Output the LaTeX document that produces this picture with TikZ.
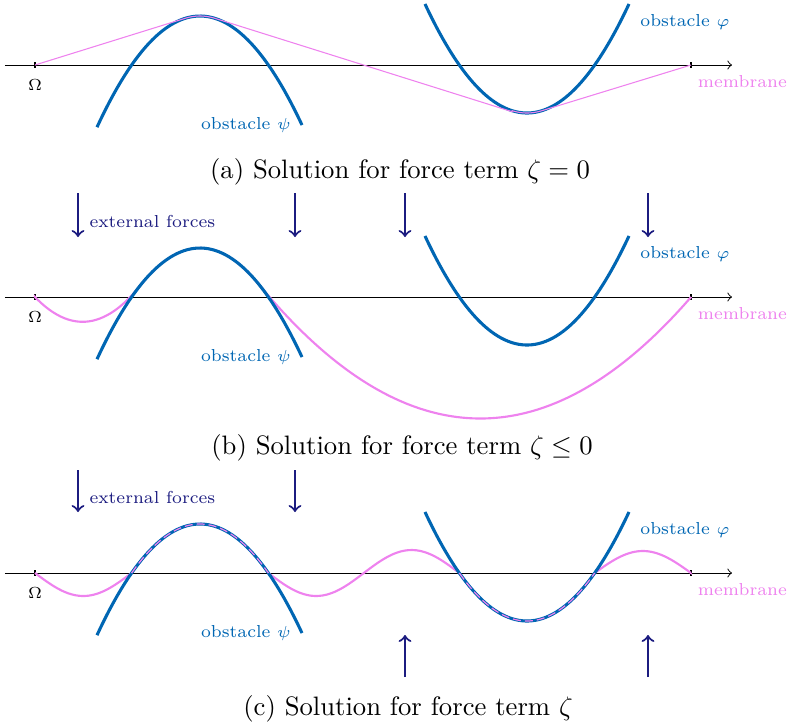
\documentclass[tikz,border=0pt]{standalone}
\usepackage{amsmath,amssymb}
\definecolor{obst}{RGB}{0,102,179}
\definecolor{memb}{RGB}{238,130,238}
\definecolor{force}{RGB}{28,28,128}
\tikzset{
  obstline/.style={obst, line width=1.15pt},
  membline/.style={memb, line width=0.8pt},
  membthin/.style={memb, line width=0.4pt},
  membdash/.style={memb, line width=0.45pt, dash pattern=on 3pt off 1.5pt},
  axisline/.style={->, line width=0.35pt, black},
  tickmark/.style={line width=0.8pt, black},
  forcearrow/.style={->, force, line width=0.8pt},
  lbl/.style={font=\fontsize{6.5}{8}\selectfont, inner sep=0pt},
  obstlbl/.style={lbl, text=obst},
  memblbl/.style={lbl, text=memb, anchor=east},
  forcelbl/.style={lbl, text=force, anchor=west},
  captionlbl/.style={font=\normalsize, inner sep=0pt},
}
\newcommand{\axisparts}[1]{%
  \coordinate (#1-ax0) at (5,0);
  \coordinate (#1-ax1) at (732,0);
  \draw[axisline] (#1-ax0) -- (#1-ax1);
  \coordinate (#1-t0a) at (35,-3); \coordinate (#1-t0b) at (35,3);
  \coordinate (#1-t1a) at (691,-3); \coordinate (#1-t1b) at (691,3);
  \draw[tickmark] (#1-t0a) -- (#1-t0b);
  \draw[tickmark] (#1-t1a) -- (#1-t1b);
  \node[lbl] (#1-omega) at (35,20) {$\Omega$};
  \node[obstlbl] (#1-psi) at (246,60) {obstacle $\psi$};
  \node[obstlbl] (#1-phi) at (685,-43) {obstacle $\varphi$};
  \node[memblbl] (#1-memb) at (787.5,17) {membrane};
}
\newcommand{\obstacles}{%
  \draw[obstline] plot[domain=97:302, samples=60, smooth] (\x,{-49+104.8*((\x-200)/100)^2});
  \draw[obstline] plot[domain=425:629, samples=60, smooth] (\x,{48-104.8*((\x-527)/100)^2});
}
\begin{document}
\begin{tikzpicture}[x=0.375pt, y=-0.375pt]
\useasboundingbox (0,0) rectangle (788,727);

% ---------- panel (a)
\begin{scope}[shift={(0,65)}]
  \axisparts{a}
  \obstacles
  \coordinate (a-m0) at (35,0);
  \coordinate (a-m1) at (691,0);
  \draw[membthin] (a-m0) -- (185.2,-46.7)
     -- plot[domain=185.2:214.8, samples=12] (\x,{-49+104.8*((\x-200)/100)^2})
     -- (512.2,46.7)
     -- plot[domain=512.2:541.6, samples=12] (\x,{48-104.8*((\x-527)/100)^2})
     -- (a-m1);
\end{scope}
\node[captionlbl] (cap-a) at (400,172) {(a) Solution for force term $\zeta = 0$};

% ---------- panel (b)
\begin{scope}[shift={(0,297)}]
  \axisparts{b}
  \coordinate (b-m0) at (35,0);
  \coordinate (b-m1) at (691,0);
  \draw[membline] (b-m0)
     -- plot[domain=35:140, samples=30, smooth] (\x,{24.8-109.5*((\x-82.6)/100)^2})
     -- plot[domain=140:258, samples=30, smooth] (\x,{-49+104.8*((\x-200)/100)^2})
     -- plot[domain=258:691, samples=60, smooth] (\x,{121.5-27.35*((\x-480.3)/100)^2})
     -- (b-m1);
  \obstacles
  \foreach \i/\xx in {1/78,2/295,3/405,4/648}{
    \coordinate (b-f\i s) at (\xx,-104);
    \coordinate (b-f\i e) at (\xx,-60);
    \draw[forcearrow] (b-f\i s) -- (b-f\i e);
  }
  \node[forcelbl] (b-ext) at (89,-76) {external forces};
\end{scope}
\node[captionlbl] (cap-b) at (402,448) {(b) Solution for force term $\zeta \leq 0$};

% ---------- panel (c)
\begin{scope}[shift={(0,573)}]
  \axisparts{c}
  \coordinate (c-m0) at (35,0);
  \coordinate (c-m1) at (691,0);
  \draw[membline] (c-m0)
     -- plot[domain=35:131.6, samples=30, smooth] (\x,{23*sin(1.8634*(\x-35))})
     -- plot[domain=131.6:268.4, samples=30, smooth] (\x,{-49+104.8*((\x-200)/100)^2})
     -- plot[domain=268.4:459.3, samples=50, smooth] (\x,{23*sin(1.8858*(\x-268.4))})
     -- plot[domain=459.3:594.7, samples=30, smooth] (\x,{48-104.8*((\x-527)/100)^2})
     -- plot[domain=594.7:691, samples=30, smooth] (\x,{-22*sin(1.8692*(\x-594.7))})
     -- (c-m1);
  \obstacles
  \draw[membdash] plot[domain=131.6:268.4, samples=30, smooth] (\x,{-49+104.8*((\x-200)/100)^2});
  \draw[membdash] plot[domain=459.3:594.7, samples=30, smooth] (\x,{48-104.8*((\x-527)/100)^2});
  \foreach \i/\xx in {1/78,2/295}{
    \coordinate (c-f\i s) at (\xx,-103);
    \coordinate (c-f\i e) at (\xx,-61);
    \draw[forcearrow] (c-f\i s) -- (c-f\i e);
  }
  \foreach \i/\xx in {3/405,4/648}{
    \coordinate (c-f\i s) at (\xx,104);
    \coordinate (c-f\i e) at (\xx,62);
    \draw[forcearrow] (c-f\i s) -- (c-f\i e);
  }
  \node[forcelbl] (c-ext) at (89,-76) {external forces};
\end{scope}
\node[captionlbl] (cap-c) at (408,709) {(c) Solution for force term $\zeta$};
\end{tikzpicture}
\end{document}
